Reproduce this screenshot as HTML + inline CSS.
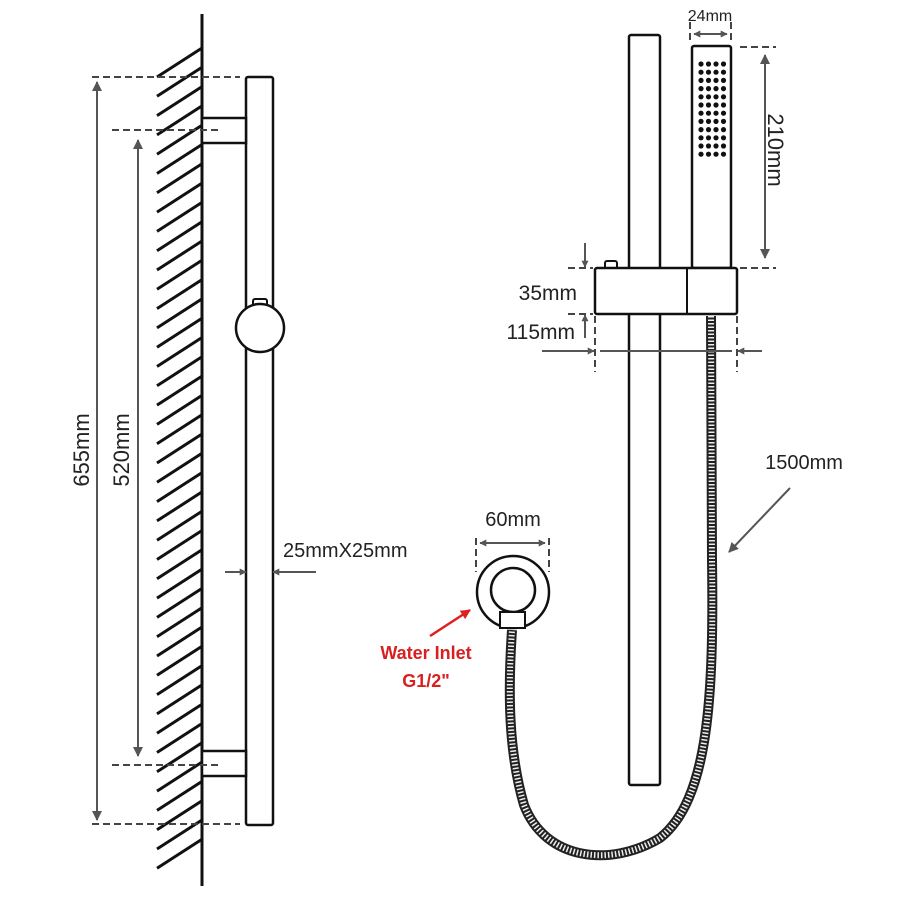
<!DOCTYPE html>
<html><head><meta charset="utf-8"><style>
body{margin:0;background:#fff}
svg{display:block}
text{font-family:"Liberation Sans",sans-serif;fill:#222}
</style></head><body>
<svg width="900" height="900" viewBox="0 0 900 900" xmlns="http://www.w3.org/2000/svg">
<defs>
<marker id="a" viewBox="0 0 10 10" refX="9" refY="5" markerWidth="7" markerHeight="8" orient="auto-start-reverse" markerUnits="userSpaceOnUse"><path d="M0,0 L10,5 L0,10 z" fill="#555"/></marker>
<marker id="as" viewBox="0 0 10 10" refX="9" refY="5" markerWidth="14" markerHeight="10" orient="auto-start-reverse" markerUnits="userSpaceOnUse"><path d="M0,0 L10,5 L0,10 z" fill="#555"/></marker>
<marker id="r" viewBox="0 0 10 10" refX="9" refY="5" markerWidth="12" markerHeight="10" orient="auto" markerUnits="userSpaceOnUse"><path d="M0,0 L10,5 L0,10 z" fill="#e02020"/></marker>
</defs>

<!-- wall -->
<line x1="202" y1="14" x2="202" y2="886" stroke="#111" stroke-width="3"/>
<g id="hatch" stroke="#111" stroke-width="3"></g>

<!-- rail left -->
<rect x="246" y="77" width="27" height="748" rx="2" fill="#fff" stroke="#111" stroke-width="2.5"/>
<rect x="202" y="118" width="44" height="25" fill="#fff" stroke="#111" stroke-width="2.5"/>
<rect x="202" y="751" width="44" height="25" fill="#fff" stroke="#111" stroke-width="2.5"/>
<rect x="253" y="299" width="14" height="8" rx="2" fill="#fff" stroke="#111" stroke-width="2"/>
<circle cx="260" cy="328" r="24" fill="#fff" stroke="#111" stroke-width="2.5"/>

<!-- dashed -->
<g stroke="#444" stroke-width="2" stroke-dasharray="7,4">
<line x1="92" y1="77" x2="240" y2="77"/>
<line x1="112" y1="130" x2="220" y2="130"/>
<line x1="112" y1="765" x2="220" y2="765"/>
<line x1="92" y1="824" x2="240" y2="824"/>
</g>
<g stroke="#555" stroke-width="2">
<line x1="97" y1="82" x2="97" y2="820" marker-start="url(#as)" marker-end="url(#as)"/>
<line x1="138" y1="140" x2="138" y2="756" marker-start="url(#as)" marker-end="url(#as)"/>
<line x1="225" y1="572" x2="246" y2="572" marker-end="url(#a)"/>
<line x1="316" y1="572" x2="273" y2="572" marker-end="url(#a)"/>
</g>
<text x="0" y="0" font-size="22" transform="translate(89,450) rotate(-90)" text-anchor="middle">655mm</text>
<text x="0" y="0" font-size="22" transform="translate(129,450) rotate(-90)" text-anchor="middle">520mm</text>
<text x="283" y="557" font-size="20">25mmX25mm</text>

<!-- right rail -->
<rect x="629" y="35" width="31" height="750" rx="2" fill="#fff" stroke="#111" stroke-width="2.5"/>

<!-- hose -->
<path d="M711 316 L712 560 C 714 700, 708 800, 660 838 C 610 868, 545 860, 524 805 C 508 750, 508 690, 512 630" fill="none" stroke="#222" stroke-width="10"/>
<path d="M711 316 L712 560 C 714 700, 708 800, 660 838 C 610 868, 545 860, 524 805 C 508 750, 508 690, 512 630" fill="none" stroke="#eee" stroke-width="6" stroke-dasharray="1.5,2"/>

<!-- handset -->
<rect x="692" y="46" width="39" height="222" rx="2" fill="#fff" stroke="#111" stroke-width="2.5"/>
<g id="dots" fill="#111"></g>
<!-- holder -->
<rect x="605" y="261" width="12" height="8" rx="2" fill="#fff" stroke="#111" stroke-width="2"/>
<rect x="595" y="268" width="142" height="46" rx="2" fill="#fff" stroke="#111" stroke-width="2.5"/>
<line x1="687" y1="268" x2="687" y2="314" stroke="#111" stroke-width="2"/>

<!-- right dims -->
<g stroke="#444" stroke-width="2" stroke-dasharray="7,4">
<line x1="740" y1="47" x2="776" y2="47"/>
<line x1="740" y1="268" x2="776" y2="268"/>
<line x1="690" y1="22" x2="690" y2="42"/>
<line x1="731" y1="22" x2="731" y2="42"/>
<line x1="568" y1="268" x2="593" y2="268"/>
<line x1="568" y1="314" x2="593" y2="314"/>
<line x1="595" y1="316" x2="595" y2="372"/>
<line x1="737" y1="316" x2="737" y2="372"/>
<line x1="476" y1="538" x2="476" y2="572"/>
<line x1="549" y1="538" x2="549" y2="572"/>
</g>
<g stroke="#555" stroke-width="2">
<line x1="765" y1="55" x2="765" y2="258" marker-start="url(#as)" marker-end="url(#as)"/>
<line x1="694" y1="34" x2="727" y2="34" marker-start="url(#a)" marker-end="url(#a)"/>
<line x1="585" y1="243" x2="585" y2="267" marker-end="url(#a)"/>
<line x1="585" y1="338" x2="585" y2="315" marker-end="url(#a)"/>
<line x1="542" y1="351" x2="594" y2="351" marker-end="url(#a)"/>
<line x1="600" y1="351" x2="732" y2="351" />
<line x1="762" y1="351" x2="738" y2="351" marker-end="url(#a)"/>
<line x1="480" y1="543" x2="545" y2="543" marker-start="url(#a)" marker-end="url(#a)"/>
<line x1="790" y1="488" x2="729" y2="552" marker-end="url(#as)"/>
</g>
<text x="710" y="21" font-size="16" text-anchor="middle">24mm</text>
<text x="0" y="0" font-size="22" transform="translate(768,150) rotate(90)" text-anchor="middle">210mm</text>
<text x="577" y="300" font-size="21" text-anchor="end">35mm</text>
<text x="575" y="339" font-size="21" text-anchor="end">115mm</text>
<text x="513" y="526" font-size="20" text-anchor="middle">60mm</text>
<text x="804" y="469" font-size="20" text-anchor="middle">1500mm</text>

<!-- inlet -->
<circle cx="513" cy="592" r="36" fill="#fff" stroke="#111" stroke-width="2.5"/>
<circle cx="513" cy="590" r="22" fill="#fff" stroke="#111" stroke-width="2.5"/>
<rect x="500" y="612" width="25" height="16" fill="#fff" stroke="#111" stroke-width="2"/>
<line x1="430" y1="636" x2="470" y2="610" stroke="#e02020" stroke-width="2.5" marker-end="url(#r)"/>
<text x="426" y="659" font-size="18" font-weight="bold" text-anchor="middle" style="fill:#d82020">Water Inlet</text>
<text x="426" y="687" font-size="18" font-weight="bold" text-anchor="middle" style="fill:#d82020">G1/2"</text>
</svg>
<script>
var ns="http://www.w3.org/2000/svg";
var g=document.getElementById("hatch");
for(var y=48;y+29<=886;y+=19.3){var l=document.createElementNS(ns,"line");l.setAttribute("x1",157);l.setAttribute("y1",y+29);l.setAttribute("x2",202);l.setAttribute("y2",y);g.appendChild(l);}
var d=document.getElementById("dots");
for(var r=0;r<12;r++)for(var c=0;c<4;c++){var e=document.createElementNS(ns,"circle");e.setAttribute("cx",701+c*7.5);e.setAttribute("cy",64+r*8.2);e.setAttribute("r",2.6);d.appendChild(e);}
</script>
</body></html>
